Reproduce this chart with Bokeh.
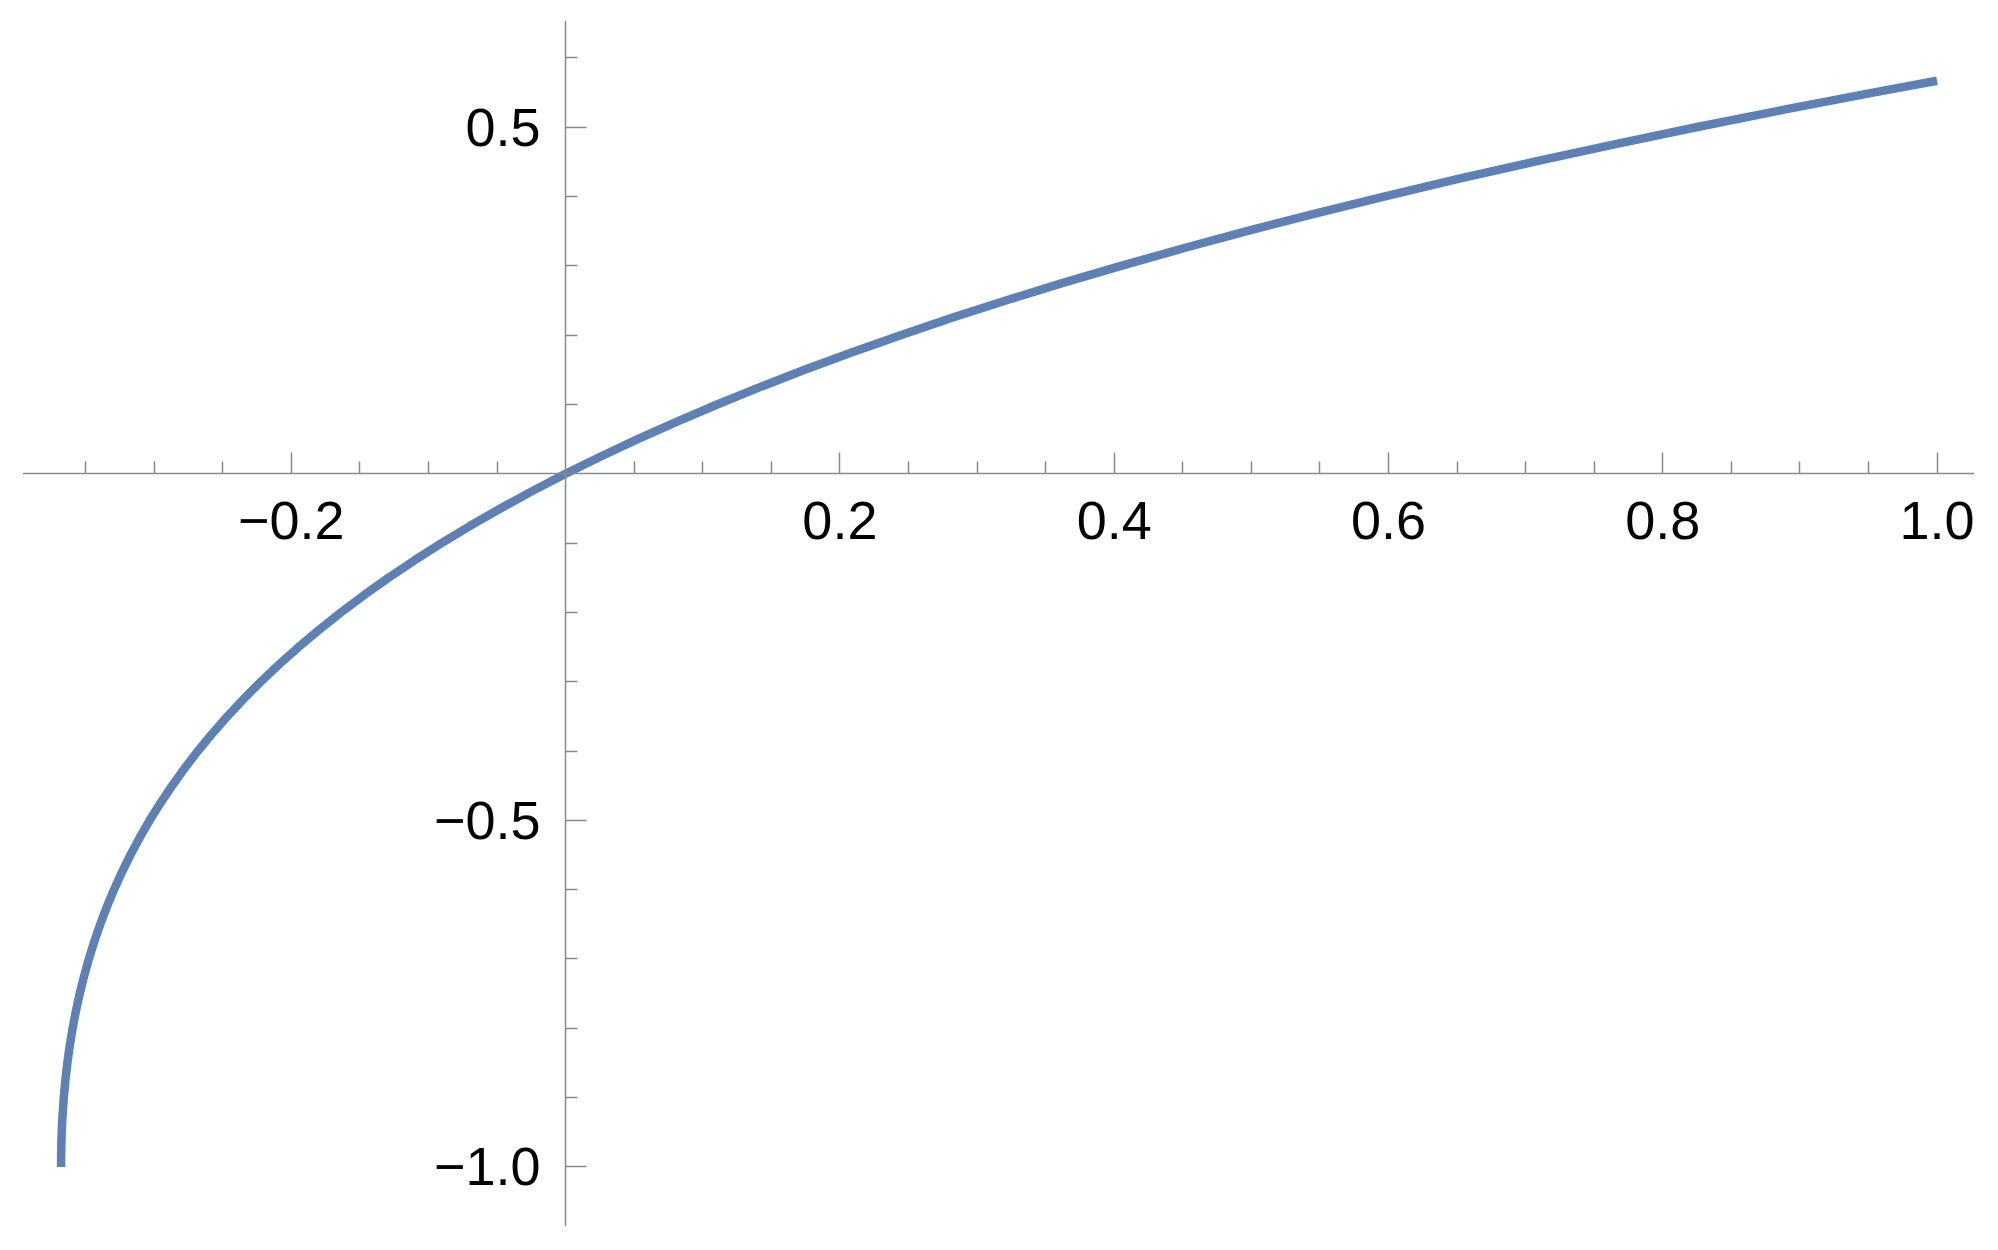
from bokeh.plotting import figure
from bokeh.models import LinearAxis, FixedTicker, CustomJSTickFormatter, Range1d
from bokeh.embed import file_html
from bokeh.resources import INLINE

# Curve points (x, y)
xs = [-0.36788, -0.36786, -0.36780, -0.36771, -0.36740, -0.36693, -0.36591,
      -0.364754, -0.36330, -0.361544, -0.35946, -0.357046, -0.35427, -0.351136,
      -0.34761, -0.343680, -0.33933, -0.334538, -0.32929, -0.323555, -0.31732,
      -0.310566, -0.30327, -0.295395, -0.28693, -0.277852, -0.26813, -0.257733,
      -0.24664, -0.234821, -0.22225, -0.208882, -0.19470, -0.179666, -0.16375,
      -0.146905, -0.12911, -0.110312, -0.09048, -0.069581, -0.04756, -0.024383,
      0.0, 0.025633, 0.05256, 0.080841, 0.11052, 0.141644, 0.17427, 0.208468,
      0.24428, 0.281773, 0.32101, 0.362046, 0.40496, 0.449810, 0.49667,
      0.545622, 0.59673, 0.650076, 0.70574, 0.763807, 0.82436, 0.887491,
      0.95329, 1.0]
ys = [-1.0, -0.99, -0.98, -0.97, -0.95, -0.93, -0.9,
      -0.875, -0.85, -0.825, -0.8, -0.775, -0.75, -0.725,
      -0.7, -0.675, -0.65, -0.625, -0.6, -0.575, -0.55,
      -0.525, -0.5, -0.475, -0.45, -0.425, -0.4, -0.375,
      -0.35, -0.325, -0.3, -0.275, -0.25, -0.225, -0.2,
      -0.175, -0.15, -0.125, -0.1, -0.075, -0.05, -0.025,
      0.0, 0.025, 0.05, 0.075, 0.1, 0.125, 0.15, 0.175,
      0.2, 0.225, 0.25, 0.275, 0.3, 0.325, 0.35,
      0.375, 0.4, 0.425, 0.45, 0.475, 0.5, 0.525,
      0.55, 0.56714]

x_major = [-0.2, 0.2, 0.4, 0.6, 0.8, 1.0]
x_minor = [-0.35, -0.3, -0.25, -0.15, -0.1, -0.05, 0.05, 0.1, 0.15, 0.25, 0.3,
           0.35, 0.45, 0.5, 0.55, 0.65, 0.7, 0.75, 0.85, 0.9, 0.95]
y_major = [-1.0, -0.5, 0.5]
y_minor = [-0.9, -0.8, -0.7, -0.6, -0.4, -0.3, -0.2, -0.1, 0.1, 0.2, 0.3, 0.4, 0.6]

p = figure(frame_width=1952, frame_height=1206,
           x_range=Range1d(-0.396, 1.0273), y_range=Range1d(-1.086, 0.654),
           x_axis_type=None, y_axis_type=None,
           output_backend="svg", toolbar_location=None,
           min_border_left=22, min_border_top=20, min_border_right=0, min_border_bottom=0)
p.grid.visible = False
p.outline_line_color = None
p.background_fill_color = "white"

fmt = CustomJSTickFormatter(code="return tick.toFixed(1).replace('-', '\u2212');")

def style(ax):
    ax.axis_line_color = "#8a8a8a"
    ax.axis_line_width = 1.5
    ax.major_tick_line_color = "#8a8a8a"
    ax.minor_tick_line_color = "#8a8a8a"
    ax.major_tick_line_width = 1.5
    ax.minor_tick_line_width = 1.5
    ax.major_tick_in = 21
    ax.major_tick_out = 0
    ax.minor_tick_in = 12
    ax.minor_tick_out = 0
    ax.major_label_text_font = "Liberation Sans"
    ax.major_label_text_font_size = "54px"
    ax.major_label_text_color = "black"
    ax.formatter = fmt

xaxis = LinearAxis(fixed_location=0, ticker=FixedTicker(ticks=x_major, minor_ticks=x_minor))
style(xaxis)
xaxis.major_label_standoff = 28
p.add_layout(xaxis, "below")

yaxis = LinearAxis(fixed_location=0, ticker=FixedTicker(ticks=y_major, minor_ticks=y_minor))
style(yaxis)
yaxis.major_label_standoff = 25
p.add_layout(yaxis, "left")

p.line(xs, ys, line_color="#5E81B5", line_width=8.5, line_join="round")

open("out.html", "w").write(file_html(p, INLINE))
